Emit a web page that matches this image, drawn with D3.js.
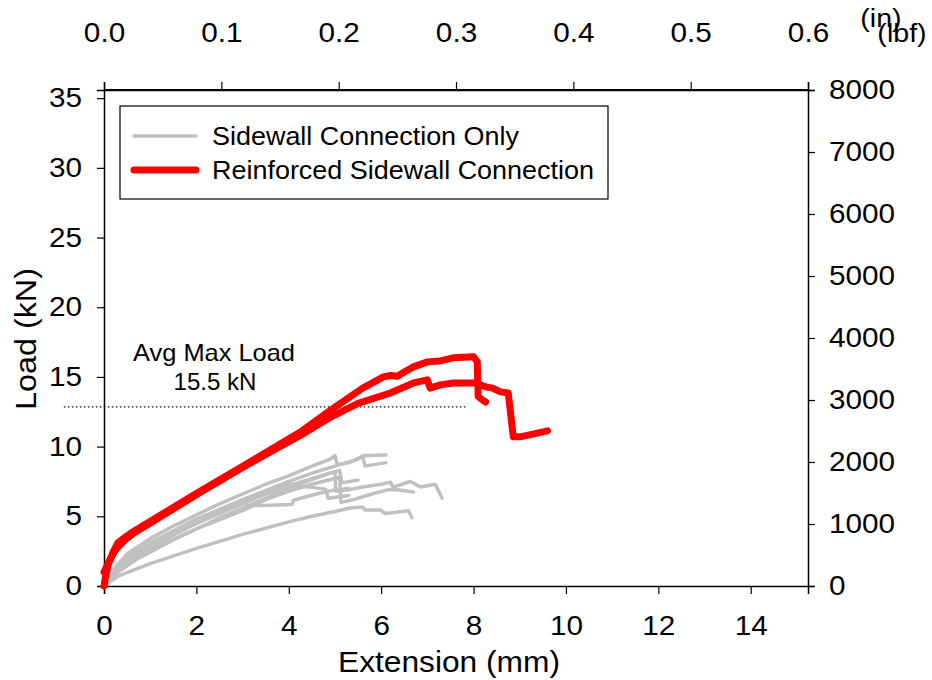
<!DOCTYPE html>
<html>
<head>
<meta charset="utf-8">
<script src="https://cdn.jsdelivr.net/npm/d3@7"></script>
<style>
  html, body { margin: 0; padding: 0; background: #fff; }
  svg { display: block; }
  text { font-family: "Liberation Sans", Arial, sans-serif; fill: #000; }
</style>
</head>
<body>
<svg id="chart" width="932" height="680"></svg>
<script>
// ---------------- DATA ----------------
// Extension (mm), Load (kN)
const gray1 = [[0,0],[0.15,1.0],[0.5,2.3],[1,3.4],[1.5,4.3],[2,5.1],[2.5,5.9],[3,6.6],[3.5,7.3],[4,7.9],[4.5,8.6],[4.9,9.1],[5.0,9.35],[5.05,8.7],[5.3,8.85],[5.55,9.2],[5.6,9.35],[6.1,9.4]];
const gray2 = [[0,0],[0.2,1.1],[0.5,2.1],[1,3.1],[2,4.8],[3,6.2],[4,7.5],[4.6,8.2],[5.0,8.6],[5.4,9.0],[5.6,9.3],[5.65,8.6],[6.1,8.85]];
const gray3 = [[0,0],[0.2,1.0],[0.5,1.9],[1,2.9],[2,4.5],[3,5.9],[3.5,6.6],[4.0,7.2],[4.5,7.7],[4.9,8.1],[5.0,8.15],[5.02,6.8],[5.3,6.9],[5.6,7.1],[6.0,7.3],[6.2,7.45],[6.26,7.1],[6.63,7.5],[6.85,7.1],[7.17,7.3],[7.32,6.3]];
const gray4 = [[0,0],[0.2,0.9],[0.5,1.7],[1,2.6],[2,4.1],[3,5.4],[3.5,6.2],[4.0,6.8],[4.5,7.3],[5.1,7.8],[5.13,6.0],[5.4,6.2],[5.8,6.6],[6.13,6.9],[6.35,6.9],[6.7,6.75]];
const gray5 = [[0,0],[0.3,0.7],[1,1.6],[2,2.7],[3,3.7],[4,4.6],[4.5,5.0],[5.0,5.35],[5.33,5.6],[5.6,5.67],[5.65,5.45],[5.98,5.45],[6.09,5.2],[6.35,5.3],[6.59,5.4],[6.67,4.9]];
const gray6 = [[0,0],[0.2,0.9],[0.5,1.8],[1,2.8],[2,4.5],[2.6,5.5],[3.05,6.1],[3.1,5.75],[4.07,5.85],[4.1,6.15],[4.6,6.6],[5.0,6.9],[5.3,7.0]];
const gray7 = [[0,0],[0.3,1.2],[0.6,2.0],[1,2.8],[2,4.5],[3,6.0],[4.0,7.45],[4.07,7.25],[4.8,6.95],[4.85,6.3],[5.3,6.5]];
const gray8 = [[0,0],[0.3,1.0],[0.7,1.9],[1.5,3.3],[2.5,4.9],[3.5,6.3],[4.3,7.4],[4.8,8.0],[5.1,8.3],[5.15,7.4],[5.5,7.6]];

const red1 = [[0,0],[0.04,0.8],[0.09,1.5],[0.2,2.45],[0.3,3.1],[0.5,3.6],[0.63,3.9],[2.08,6.8],[3.16,8.9],[4.25,11.05],[4.9,12.6],[5.6,14.2],[6.05,15.0],[6.2,15.1],[6.35,15.05],[6.5,15.35],[6.7,15.72],[7.0,16.08],[7.28,16.15],[7.56,16.37],[8.0,16.44],[8.08,16.1],[8.1,13.6],[8.19,13.35],[8.26,13.2]];
const red2 = [[0,1.0],[0.1,1.7],[0.25,2.6],[0.45,3.3],[0.65,3.8],[2.08,6.7],[3.16,8.8],[4.25,10.8],[4.9,12.1],[5.5,13.1],[6.2,13.85],[6.7,14.57],[7.0,14.79],[7.06,14.2],[7.28,14.43],[7.56,14.57],[8.04,14.57],[8.26,14.29],[8.41,14.2],[8.58,13.93],[8.75,13.85],[8.86,10.7],[9.01,10.7],[9.6,11.13]];

const sidewallOnly = [gray1, gray2, gray3, gray4, gray5, gray6, gray7, gray8];
const reinforced = [red1, red2];

const seriesNames = ["Sidewall Connection Only", "Reinforced Sidewall Connection"];
const seriesColors = ["#c0c0c0", "#ff0000"];

const xTicksMM = [0, 2, 4, 6, 8, 10, 12, 14];
const xTicksIn = [0.0, 0.1, 0.2, 0.3, 0.4, 0.5, 0.6];
const yTicksKN = [0, 5, 10, 15, 20, 25, 30, 35];
const yTicksLbf = [0, 1000, 2000, 3000, 4000, 5000, 6000, 7000, 8000];

const avgLine = { load: 12.85, from: -0.87, to: 7.87 };
const avgLabel = ["Avg Max Load", "15.5 kN"];

// ---------------- LAYOUT ----------------
const svg = d3.select("#chart");
const L = 104, R = 808, T = 90, B = 586;

const MM_PER_IN = 25.4, KN_PER_LBF = 0.0044482216;
const xMax = 0.6 * MM_PER_IN;
const yMax = 8000 * KN_PER_LBF;

const x = d3.scaleLinear().domain([0, xMax]).range([L, R]);
const y = d3.scaleLinear().domain([0, yMax]).range([B, T]);
const xIn = d3.scaleLinear().domain([0, 0.6]).range([L, R]);
const yLbf = d3.scaleLinear().domain([0, 8000]).range([B, T]);

const fontSize = 27;
const STRETCH = 1.1;

function stretch(sel, factor) {
  sel.each(function() {
    const w = this.getComputedTextLength();
    d3.select(this).attr("textLength", w * factor).attr("lengthAdjust", "spacingAndGlyphs");
  });
}
function fitWidth(sel, width) {
  sel.attr("textLength", width).attr("lengthAdjust", "spacingAndGlyphs");
}

// Axes
const axB = d3.axisBottom(x).tickValues(xTicksMM).tickSize(8).tickPadding(22).tickFormat(d3.format("d"));
const axT = d3.axisTop(xIn).tickValues(xTicksIn).tickSize(8).tickPadding(40).tickFormat(d3.format(".1f"));
const axL = d3.axisLeft(y).tickValues(yTicksKN).tickSize(7).tickPadding(15).tickFormat(d3.format("d"));
const axR = d3.axisRight(yLbf).tickValues(yTicksLbf).tickSize(7).tickPadding(14).tickFormat(d3.format("d"));

function styleAxis(g) {
  g.select(".domain").attr("stroke", "#000").attr("stroke-width", 1.5);
  g.selectAll(".tick line").attr("stroke", "#000").attr("stroke-width", 1.2);
  g.selectAll(".tick text").attr("font-size", fontSize).attr("font-family", "Liberation Sans, Arial, sans-serif").attr("fill", "#000");
  stretch(g.selectAll(".tick text"), STRETCH);
}

svg.append("g").attr("transform", `translate(0,${B})`).call(axB).call(styleAxis);
svg.append("g").attr("transform", `translate(0,${T})`).call(axT).call(styleAxis);
svg.append("g").attr("transform", `translate(${L},0)`).call(axL).call(styleAxis);
svg.append("g").attr("transform", `translate(${R},0)`).call(axR).call(styleAxis);

// Unit labels
svg.append("text").attr("x", 881).attr("y", 27).attr("text-anchor", "middle").attr("font-size", 26).text("(in)").call(stretch, STRETCH);
svg.append("text").attr("x", 902).attr("y", 42).attr("text-anchor", "middle").attr("font-size", 26).text("(lbf)").call(stretch, STRETCH);

// Axis titles
svg.append("text").attr("x", 449).attr("y", 672).attr("text-anchor", "middle").attr("font-size", 29).text("Extension (mm)").call(fitWidth, 222);
svg.append("text").attr("transform", `translate(36,339) rotate(-90)`).attr("text-anchor", "middle").attr("font-size", 29).text("Load (kN)").call(fitWidth, 142);

// Average line
svg.append("line")
  .attr("x1", x(avgLine.from)).attr("x2", x(avgLine.to))
  .attr("y1", y(avgLine.load)).attr("y2", y(avgLine.load))
  .attr("stroke", "#000").attr("stroke-width", 1.2).attr("stroke-dasharray", "1.5,2.5");

svg.append("text").attr("x", 214).attr("y", 361).attr("text-anchor", "middle")
  .attr("font-family", "Liberation Serif, Times New Roman, serif").attr("font-size", 24).text(avgLabel[0]).call(fitWidth, 162);
svg.append("text").attr("x", 215).attr("y", 390).attr("text-anchor", "middle")
  .attr("font-family", "Liberation Serif, Times New Roman, serif").attr("font-size", 24).text(avgLabel[1]).call(fitWidth, 83);

// Curves
const line = d3.line().x(d => x(d[0])).y(d => y(d[1]));
const plot = svg.append("g");
plot.selectAll(".gray").data(sidewallOnly).enter().append("path")
  .attr("d", line).attr("fill", "none").attr("stroke", seriesColors[0])
  .attr("stroke-width", 3.5).attr("stroke-linejoin", "round").attr("stroke-linecap", "round");
plot.selectAll(".red").data(reinforced).enter().append("path")
  .attr("d", line).attr("fill", "none").attr("stroke", seriesColors[1])
  .attr("stroke-width", 7).attr("stroke-linejoin", "round").attr("stroke-linecap", "round");

// Legend
const lg = svg.append("g");
lg.append("rect").attr("x", 120).attr("y", 106).attr("width", 488).attr("height", 93)
  .attr("fill", "#fff").attr("stroke", "#000").attr("stroke-width", 1.2);
const lgW = [3.5, 7];
const lgTextW = [307, 382];
seriesNames.forEach((name, i) => {
  const yy = 136 + i * 34;
  lg.append("line").attr("x1", 134).attr("x2", 196).attr("y1", yy).attr("y2", yy)
    .attr("stroke", seriesColors[i]).attr("stroke-width", lgW[i]).attr("stroke-linecap", "round");
  lg.append("text").attr("x", 212).attr("y", yy + 9).attr("font-size", 25).text(name).call(fitWidth, lgTextW[i]);
});

// Top edge of the plot frame (drawn last so it stays on top)
svg.append("line").attr("x1", L).attr("x2", R).attr("y1", T).attr("y2", T)
  .attr("stroke", "#000").attr("stroke-width", 2);
</script>
</body>
</html>
